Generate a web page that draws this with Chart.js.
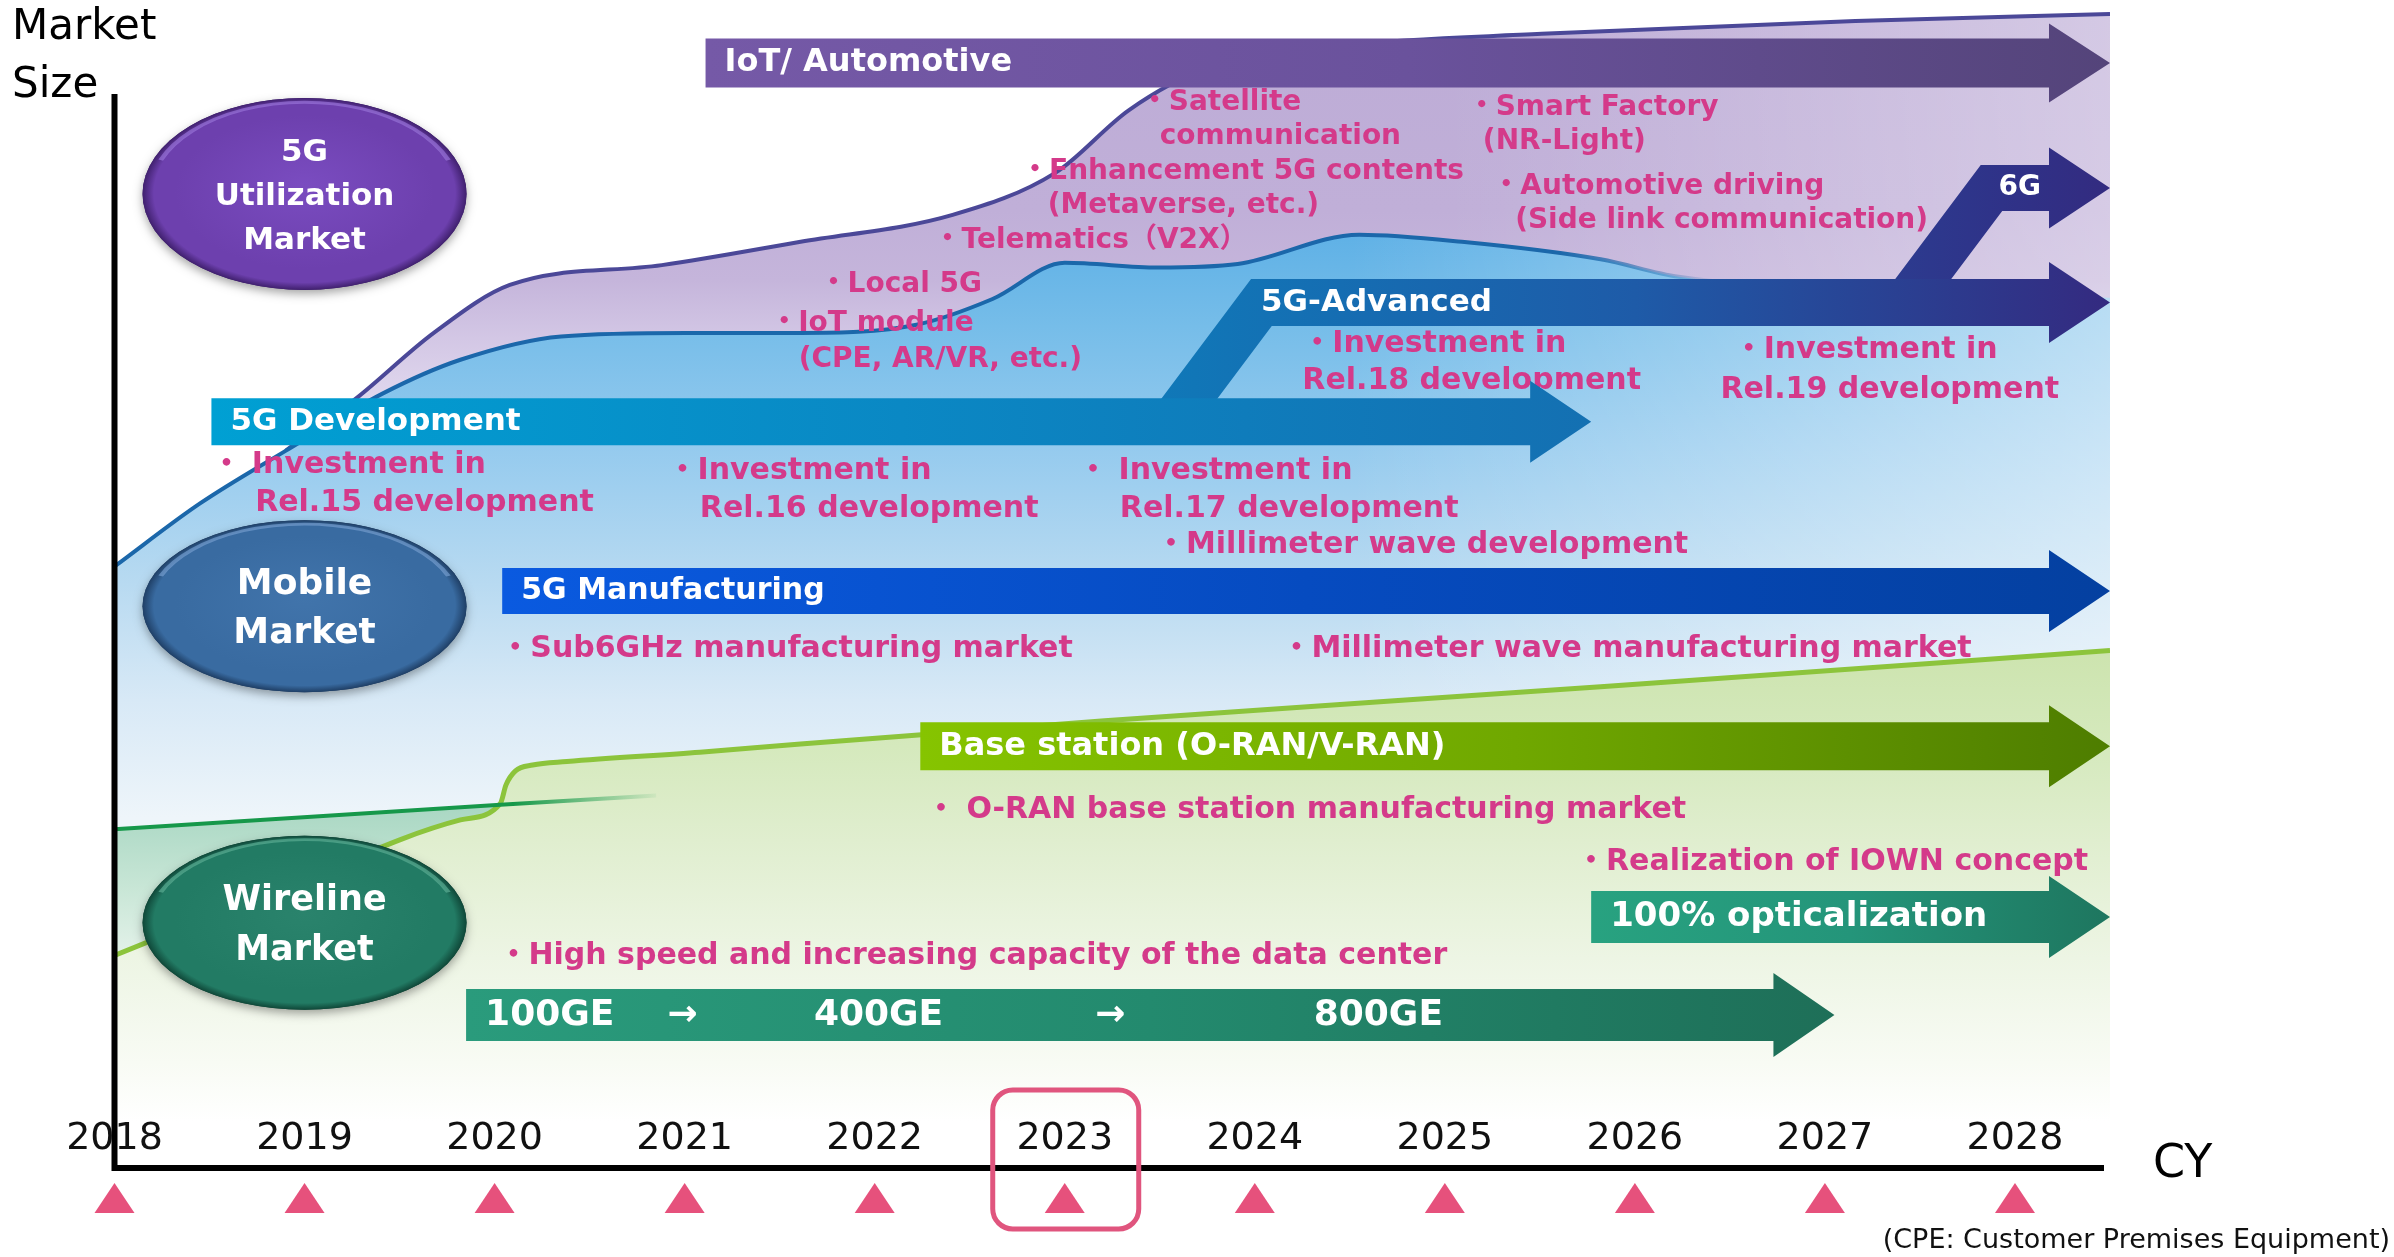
<!DOCTYPE html>
<html>
<head>
<meta charset="utf-8">
<title>5G market roadmap</title>
<script src="https://cdn.jsdelivr.net/npm/chart.js@4.4.1/dist/chart.umd.min.js"></script>
<style>
  html, body { margin: 0; padding: 0; background: #fff; overflow: hidden; }
  #wrap { position: relative; width: 2394px; height: 1257px; }
  canvas { display: block; }
</style>
</head>
<body>
<div id="wrap"><canvas id="roadmap"></canvas></div>
<script>
// ---- axis ----
const years = [2018, 2019, 2020, 2021, 2022, 2023, 2024, 2025, 2026, 2027, 2028];
const highlightYear = 2023;

// ---- market curves (calendar year, relative market size 0-100) ----
const utilizationYears = [2018.90, 2019.28, 2019.68, 2020.08, 2020.88, 2021.61, 2022.41, 2022.95, 2023.34, 2023.74, 2024.47, 2025.51, 2027.16, 2028.5];
const utilizationSize  = [61.4, 66.0, 71.5, 75.6, 77.3, 79.3, 81.6, 85.2, 90.6, 94.1, 96.1, 97.1, 98.2, 98.8];

const mobileYears = [2018.0, 2018.45, 2018.90, 2019.41, 2019.82, 2020.35, 2021.01, 2021.61, 2022.22, 2022.62, 2023.0, 2023.49, 2023.91, 2024.55, 2025.09, 2025.82, 2026.23, 2027.20, 2028.5];
const mobileSize  = [51.5, 56.9, 61.4, 66.3, 69.2, 71.2, 71.5, 71.5, 72.2, 74.4, 77.5, 77.1, 77.4, 79.9, 79.3, 77.8, 76.3, 75.2, 74.5];

const wirelineYears = [2018.0, 2018.92, 2019.82, 2020.03, 2020.06, 2020.11, 2020.20, 2020.38, 2021.08, 2021.61, 2023.21, 2025.82, 2028.5];
const wirelineSize  = [18.2, 24.2, 29.8, 31.2, 32.8, 34.0, 34.5, 34.8, 35.6, 36.3, 38.3, 41.2, 44.3];

const legacyYears = [2018.0, 2020.03, 2020.85];
const legacySize  = [29.0, 31.1, 31.9];

// ---- roadmap arrows ----
const arrowNames   = ['IoT/ Automotive', '6G', '5G-Advanced', '5G Development', '5G Manufacturing', 'Base station (O-RAN/V-RAN)', '100% opticalization', ''];
const arrowStart   = [2021.11, 2027.37, 2023.51, 2018.51, 2020.04, 2022.24, 2025.77, 2019.85];
const arrowEnd     = [2028.5, 2028.5, 2028.5, 2025.77, 2028.5, 2028.5, 2028.5, 2027.05];
const arrowLevel   = [94.6, 83.9, 74.1, 63.9, 49.4, 36.1, 21.5, 13.1];
const arrowBranchOf = [null, 2, 3, null, null, null, null, null];

const ethernetSteps = ['100GE', '→', '400GE', '→', '800GE'];
const ethernetYears = [2019.95, 2020.91, 2021.68, 2023.16, 2024.31];

// ---- market badges ----
const badgeLines = [['5G', 'Utilization', 'Market'], ['Mobile', 'Market'], ['Wireline', 'Market']];
const badgeYear  = [2019, 2019, 2019];
const badgeLevel = [83.4, 48.1, 21.0];

// ---- notes (group 0: utilization, group 1: mobile / wireline) ----
const noteText = [
  '・Satellite', 'communication', '・Smart Factory', '(NR-Light)',
  '・Enhancement 5G contents', '(Metaverse, etc.)', '・Automotive driving', '(Side link communication)',
  '・Telematics（V2X）', '・Local 5G', '・IoT module', '(CPE, AR/VR, etc.)',
  '・Investment in', 'Rel.18 development', '・Investment in', 'Rel.19 development',
  '・ Investment in', 'Rel.15 development', '・Investment in', 'Rel.16 development',
  '・ Investment in', 'Rel.17 development', '・Millimeter wave development',
  '・Sub6GHz manufacturing market', '・Millimeter wave manufacturing market',
  '・ O-RAN base station manufacturing market', '・Realization of IOWN concept',
  '・High speed and increasing capacity of the data center'
];
const noteYear = [
  2023.40, 2023.50, 2025.12, 2025.20,
  2022.77, 2022.91, 2025.25, 2025.37,
  2022.31, 2021.71, 2021.45, 2021.60,
  2024.25, 2024.25, 2026.52, 2026.45,
  2018.51, 2018.74, 2020.91, 2021.08,
  2023.07, 2023.29, 2023.48,
  2020.03, 2024.14,
  2022.27, 2025.69,
  2020.02
];
const noteLevel = [
  91.2, 88.3, 90.8, 87.9,
  85.3, 82.4, 84.0, 81.1,
  79.4, 75.6, 72.3, 69.2,
  70.5, 67.4, 70.0, 66.6,
  60.2, 56.9, 59.7, 56.4,
  59.7, 56.4, 53.3,
  44.4, 44.4,
  30.6, 26.2,
  18.1
];
const noteGroup = [0,0,0,0, 0,0,0,0, 0,0,0,0, 1,1,1,1, 1,1,1,1, 1,1,1, 1,1, 1,1, 1];

// ---- styles ----
const FONT = '"DejaVu Sans", "Noto Sans CJK JP", sans-serif';
const NOTE_COLOR = '#d43a8a';
const noteSize = [28, 30];
const arrowColors = [
  ['#7559a7', '#6a529c', '#54447a'],
  ['#2c3b8f', '#2f3288', '#332b80'],
  ['#1078b8', '#1e5ba8', '#342a80'],
  ['#00a0d3', '#0a88c4', '#1470b2'],
  ['#0a5ae0', '#064bc0', '#0440a0'],
  ['#86c400', '#70a800', '#4e7d00'],
  ['#28a280', '#24957a', '#1e765f'],
  ['#2a9b7c', '#238a6e', '#1e6f58']
];
const arrowBody = [49, 46, 47, 47, 46, 48, 52, 52];
const arrowHead = [79, 81, 81, 82, 82, 82, 82, 84];
const arrowLabelSize = [32, 28, 31, 31, 30, 32, 34, 36];
const arrowLabelAlign = ['start', 'end', 'start', 'start', 'start', 'start', 'start', 'start'];
const HEAD_LEN = 61, SLOPE = 0.75, BRANCH_W = 56;
const badgeColors = [
  ['#7a4cc0', '#6d40ae', '#40206e', '#a884ea'],
  ['#4174ab', '#396ba1', '#1f3f66', '#86aee0'],
  ['#2a836c', '#227b64', '#0f4738', '#6cbfa4']
];
const badgeRx = [162, 162, 162], badgeRy = [96, 86, 87];
const badgeFont = [31, 36, 35], badgeGap = [44, 49, 50];

const fillCache = {};
function paintFill(chart, key, stops, fadeFrom, fadeAlpha) {
  const { chartArea, scales } = chart;
  if (!chartArea) return 'rgba(0,0,0,0)';
  const id = key + chart.width + 'x' + chart.height;
  if (fillCache[id]) return fillCache[id];
  const c = document.createElement('canvas');
  c.width = chart.width; c.height = chart.height;
  const g = c.getContext('2d');
  const p0 = scales.y.getPixelForValue(stops[0][0]);
  const p1 = scales.y.getPixelForValue(stops[stops.length - 1][0]);
  const lg = g.createLinearGradient(0, p0, 0, p1);
  stops.forEach(([v, col]) => lg.addColorStop((scales.y.getPixelForValue(v) - p0) / (p1 - p0), col));
  g.fillStyle = lg;
  g.fillRect(0, 0, c.width, c.height);
  if (fadeAlpha) {
    const hg = g.createLinearGradient(scales.x.getPixelForValue(fadeFrom), 0, chartArea.right, 0);
    hg.addColorStop(0, 'rgba(255,255,255,0)');
    hg.addColorStop(1, 'rgba(255,255,255,' + fadeAlpha + ')');
    g.fillStyle = hg;
    g.fillRect(0, 0, c.width, c.height);
  }
  fillCache[id] = chart.ctx.createPattern(c, 'no-repeat');
  return fillCache[id];
}

function fadingStroke(chart, color, from, to) {
  const { chartArea, scales } = chart;
  if (!chartArea) return color;
  const g = chart.ctx.createLinearGradient(scales.x.getPixelForValue(from), 0, scales.x.getPixelForValue(to), 0);
  g.addColorStop(0, color);
  g.addColorStop(1, color + '00');
  return g;
}

const pts = (xs, ys) => xs.map((v, i) => ({ x: v, y: ys[i] }));

function drawBadge(ctx, cx, cy, rx, ry, cols, lines, size, gap) {
  const [light, base, dark, rim] = cols;
  ctx.save();
  ctx.shadowColor = 'rgba(0,0,0,0.35)';
  ctx.shadowBlur = 10;
  ctx.shadowOffsetY = 4;
  ctx.beginPath();
  ctx.ellipse(cx, cy, rx, ry, 0, 0, Math.PI * 2);
  ctx.fillStyle = dark;
  ctx.fill();
  ctx.restore();

  ctx.save();
  ctx.translate(cx, cy);
  ctx.scale(1, ry / rx);
  const rg = ctx.createRadialGradient(0, -rx * 0.1, 0, 0, 0, rx);
  rg.addColorStop(0, light);
  rg.addColorStop(0.8, base);
  rg.addColorStop(0.93, base);
  rg.addColorStop(1, dark);
  ctx.beginPath();
  ctx.arc(0, 0, rx, 0, Math.PI * 2);
  ctx.fillStyle = rg;
  ctx.fill();
  ctx.beginPath();
  ctx.arc(0, 0, rx * 0.955, Math.PI * 1.12, Math.PI * 1.88);
  ctx.strokeStyle = rim;
  ctx.globalAlpha = 0.55;
  ctx.lineWidth = 5;
  ctx.stroke();
  ctx.restore();

  ctx.fillStyle = '#fff';
  ctx.font = `bold ${size}px ${FONT}`;
  ctx.textAlign = 'center';
  ctx.textBaseline = 'middle';
  const y0 = cy + 3 - (lines.length - 1) * gap / 2;
  lines.forEach((t, i) => ctx.fillText(t, cx, y0 + i * gap));
}

const roadmapPlugin = {
  id: 'roadmap',
  afterDatasetsDraw(chart) {
    const ctx = chart.ctx;
    const sx = chart.scales.x, sy = chart.scales.y;
    const X = v => sx.getPixelForValue(v);
    const Y = v => sy.getPixelForValue(v);
    const area = chart.chartArea;

    // notes
    ctx.save();
    ctx.textAlign = 'left';
    ctx.textBaseline = 'middle';
    ctx.fillStyle = NOTE_COLOR;
    noteText.forEach((t, i) => {
      ctx.font = `bold ${noteSize[noteGroup[i]]}px ${FONT}`;
      ctx.fillText(t, X(noteYear[i]), Y(noteLevel[i]));
    });
    ctx.restore();

    // arrows
    arrowNames.forEach((name, i) => {
      const yc = Y(arrowLevel[i]);
      const b = arrowBody[i], h = arrowHead[i];
      const tip = X(arrowEnd[i]), hb = tip - HEAD_LEN;
      const top = yc - b / 2, bot = yc + b / 2;
      const p = arrowBranchOf[i];
      const x0 = X(arrowStart[i]);
      let labelX = x0 + 19;
      ctx.beginPath();
      if (p === null) {
        ctx.moveTo(x0, top);
      } else {
        const pTop = Y(arrowLevel[p]) - arrowBody[p] / 2;
        ctx.moveTo(x0 - 3 * SLOPE, pTop + 3);
        ctx.lineTo(x0 + (pTop - top) * SLOPE, top);
        labelX = x0 + (pTop - top) * SLOPE + 10;
      }
      ctx.lineTo(hb, top);
      ctx.lineTo(hb, yc - h / 2);
      ctx.lineTo(tip, yc);
      ctx.lineTo(hb, yc + h / 2);
      ctx.lineTo(hb, bot);
      if (p === null) {
        ctx.lineTo(x0, bot);
      } else {
        const pTop = Y(arrowLevel[p]) - arrowBody[p] / 2;
        ctx.lineTo(x0 + BRANCH_W + (pTop - bot) * SLOPE, bot);
        ctx.lineTo(x0 + BRANCH_W - 3 * SLOPE, pTop + 3);
      }
      ctx.closePath();
      const g = ctx.createLinearGradient(x0, 0, tip, 0);
      const cols = arrowColors[i];
      cols.forEach((c, k) => g.addColorStop(k / (cols.length - 1), c));
      ctx.fillStyle = g;
      ctx.fill();

      ctx.fillStyle = '#fff';
      ctx.font = `bold ${arrowLabelSize[i]}px ${FONT}`;
      ctx.textBaseline = 'middle';
      if (arrowLabelAlign[i] === 'end') {
        ctx.textAlign = 'right';
        ctx.fillText(name, hb - 8, yc);
      } else {
        ctx.textAlign = 'left';
        ctx.fillText(name, labelX, yc);
      }
    });

    // ethernet speed steps in the last arrow
    ctx.fillStyle = '#fff';
    ctx.textAlign = 'left';
    ctx.font = `bold ${arrowLabelSize[7]}px ${FONT}`;
    ethernetSteps.forEach((t, k) => ctx.fillText(t, X(ethernetYears[k]), Y(arrowLevel[7]) + 1));

    // badges
    badgeLines.forEach((lines, i) => {
      drawBadge(ctx, X(badgeYear[i]), Y(badgeLevel[i]), badgeRx[i], badgeRy[i], badgeColors[i], lines, badgeFont[i], badgeGap[i]);
    });

    // axes
    const ax = X(years[0]), ay = Y(0);
    ctx.save();
    ctx.strokeStyle = '#000';
    ctx.lineWidth = 6;
    ctx.beginPath();
    ctx.moveTo(ax, 94);
    ctx.lineTo(ax, ay + 3);
    ctx.moveTo(ax - 3, ay);
    ctx.lineTo(area.right - 6, ay);
    ctx.stroke();

    ctx.font = `38px ${FONT}`;
    ctx.textAlign = 'center';
    ctx.textBaseline = 'middle';
    years.forEach(yr => {
      const px = X(yr);
      ctx.fillStyle = '#111';
      ctx.fillText(String(yr), px, ay - 29);
      ctx.beginPath();
      ctx.moveTo(px, ay + 15);
      ctx.lineTo(px + 20, ay + 45);
      ctx.lineTo(px - 20, ay + 45);
      ctx.closePath();
      ctx.fillStyle = '#e6517c';
      ctx.fill();
    });

    // highlighted year
    const hx = X(highlightYear);
    ctx.strokeStyle = '#e0557e';
    ctx.lineWidth = 5;
    ctx.beginPath();
    ctx.roundRect(hx - 72, ay - 78, 146, 139, 20);
    ctx.stroke();

    ctx.fillStyle = '#000';
    ctx.textAlign = 'left';
    ctx.font = `46px ${FONT}`;
    ctx.fillText('CY', area.right + 43, ay - 3);
    ctx.font = `42px ${FONT}`;
    ctx.fillText('Market', 12, 28);
    ctx.fillText('Size', 12, 86);
    ctx.textAlign = 'right';
    ctx.font = `27px ${FONT}`;
    ctx.fillStyle = '#111';
    ctx.fillText('(CPE: Customer Premises Equipment)', chart.width - 4, 1241);
    ctx.restore();
  }
};

new Chart(document.getElementById('roadmap'), {
  type: 'line',
  data: {
    datasets: [
      {
        label: '5G Utilization Market',
        data: pts(utilizationYears, utilizationSize),
        fill: 'origin',
        borderColor: '#4b4898',
        borderWidth: 4,
        backgroundColor: c => paintFill(c.chart, 'util',
          [[99, '#bdacd6'], [82, '#c0afd8'], [76, '#c5b5db'], [71, '#d3c7e5'], [65, '#e2daef'], [55, '#ece8f4']], 2025, 0.35),
        cubicInterpolationMode: 'monotone',
        order: 5
      },
      {
        label: 'Mobile Market',
        data: pts(mobileYears, mobileSize),
        fill: 'origin',
        borderColor: c => fadingStroke(c.chart, '#1b67aa', 2025.6, 2026.5),
        borderWidth: 4,
        backgroundColor: c => paintFill(c.chart, 'mobile',
          [[80, '#5fb1e6'], [72, '#76bde9'], [62, '#94caee'], [50, '#b8daf1'], [40, '#d8e9f6'], [30, '#eef5fa']], 2024.5, 0.5),
        cubicInterpolationMode: 'monotone',
        order: 4
      },
      {
        label: 'Wireline (legacy)',
        data: pts(legacyYears, legacySize),
        fill: 'origin',
        borderWidth: 0,
        borderColor: 'rgba(0,0,0,0)',
        backgroundColor: c => paintFill(c.chart, 'legacy',
          [[31, '#a9d7c3'], [24, '#c8e6d6'], [18, '#e4f2ea']], 0, 0),
        tension: 0,
        order: 3
      },
      {
        label: 'Wireline Market',
        data: pts(wirelineYears, wirelineSize),
        fill: 'origin',
        borderColor: '#8cc43c',
        borderWidth: 5,
        backgroundColor: c => paintFill(c.chart, 'wire',
          [[44, '#cde4af'], [36, '#d5e9bd'], [28, '#e0eecf'], [18, '#edf5e4'], [9, '#f8fbf4'], [4, '#ffffff']], 0, 0),
        cubicInterpolationMode: 'monotone',
        order: 2
      },
      {
        label: 'Wireline (legacy line)',
        data: pts(legacyYears, legacySize),
        fill: false,
        borderColor: c => fadingStroke(c.chart, '#16984a', 2020.1, 2020.9),
        borderWidth: 4,
        tension: 0,
        order: 1
      }
    ]
  },
  options: {
    responsive: true,
    maintainAspectRatio: false,
    animation: false,
    layout: { padding: { left: 114.5, right: 284, top: 0, bottom: 89 } },
    scales: {
      x: { type: 'linear', min: 2018, max: 2028.5, display: false },
      y: { type: 'linear', min: 0, max: 100, display: false }
    },
    elements: { point: { radius: 0, hoverRadius: 0 } },
    plugins: { legend: { display: false }, tooltip: { enabled: false } },
    events: []
  },
  plugins: [roadmapPlugin]
});
</script>
</body>
</html>
